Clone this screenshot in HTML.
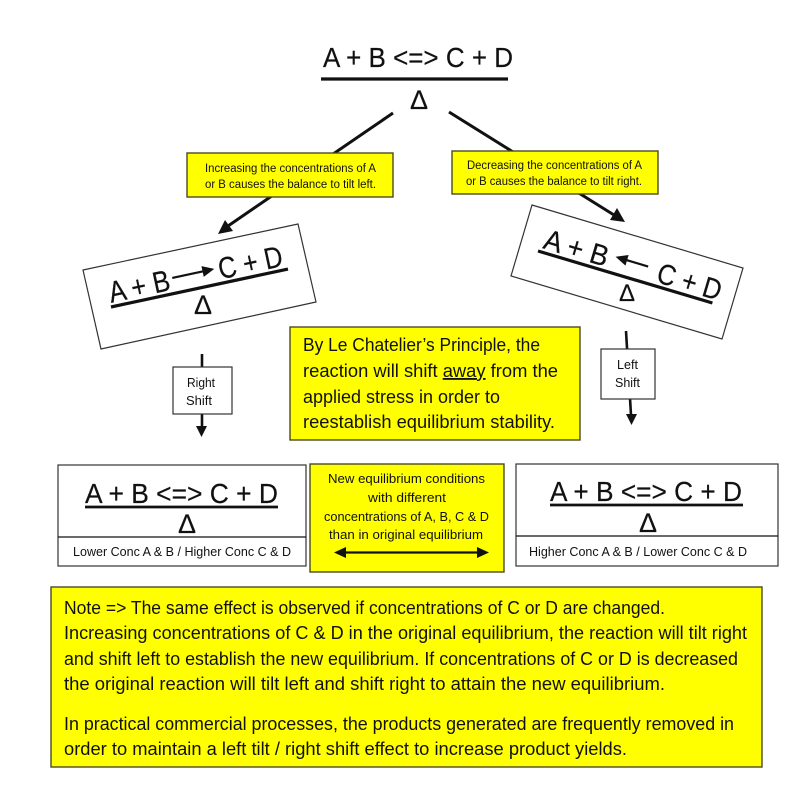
<!DOCTYPE html>
<html><head><meta charset="utf-8"><style>
html,body{margin:0;padding:0;background:#fff}
svg{display:block}
text{font-family:"Liberation Sans",sans-serif;fill:#111}
.b{stroke:#111;stroke-width:.2}
.y{fill:#ffff00;stroke:#4a4a20;stroke-width:1.4}
.w{fill:#fff;stroke:#333;stroke-width:1.2}
.k{stroke:#111;fill:none}
.h{fill:#111}
</style></head><body>
<svg xmlns="http://www.w3.org/2000/svg" width="791" height="800" viewBox="0 0 791 800">
<g style="filter:blur(.35px)">
<!-- top equation -->
<text class="b" x="323" y="67" font-size="28" textLength="190" lengthAdjust="spacingAndGlyphs">A + B &lt;=&gt; C + D</text>
<line class="k" x1="321" y1="79" x2="508" y2="79" stroke-width="3.2"/>
<text class="b" x="419" y="109" font-size="27" text-anchor="middle">Δ</text>
<!-- main connectors -->
<line class="k" x1="393" y1="113" x2="228" y2="226" stroke-width="3"/>
<polygon class="h" points="218,234 225,220 233,231"/>
<line class="k" x1="449" y1="112" x2="614" y2="215" stroke-width="3"/>
<polygon class="h" points="625,222 610,220 617,208"/>
<!-- small yellow labels -->
<rect class="y" x="187" y="153" width="206" height="44"/>
<g font-size="11.5">
<text x="205" y="172" textLength="171" lengthAdjust="spacingAndGlyphs">Increasing the concentrations of A</text>
<text x="205" y="188" textLength="171" lengthAdjust="spacingAndGlyphs">or B causes the balance to tilt left.</text>
</g>
<rect class="y" x="452" y="151" width="206" height="43"/>
<g font-size="11.5">
<text x="467" y="169" textLength="175" lengthAdjust="spacingAndGlyphs">Decreasing the concentrations of A</text>
<text x="466" y="185" textLength="176" lengthAdjust="spacingAndGlyphs">or B causes the balance to tilt right.</text>
</g>
<!-- left tilted box -->
<polygon class="w" points="83,270 298,224 316,302 101,349"/>
<g transform="translate(111,307) rotate(-12.1)">
<line class="k" x1="0" y1="0" x2="181" y2="0" stroke-width="3.2"/>
<text class="b" x="1" y="-4" font-size="30" textLength="62" lengthAdjust="spacingAndGlyphs">A + B</text>
<line class="k" x1="66" y1="-15.6" x2="100" y2="-15.6" stroke-width="2.2"/>
<polygon class="h" points="109,-15.6 97,-21 97,-10"/>
<text class="b" x="113" y="-4" font-size="30" textLength="65" lengthAdjust="spacingAndGlyphs">C + D</text>
</g>
<text class="b" x="203" y="314" font-size="27" text-anchor="middle">Δ</text>
<!-- right tilted box -->
<polygon class="w" points="532,205 743,268 722,339 511,276"/>
<g transform="translate(538,251) rotate(16.6)">
<line class="k" x1="0" y1="0" x2="182" y2="0" stroke-width="3.2"/>
<text class="b" x="3" y="-4" font-size="29" textLength="66" lengthAdjust="spacingAndGlyphs">A + B</text>
<line class="k" x1="84" y1="-16.6" x2="110" y2="-16.6" stroke-width="2.2"/>
<polygon class="h" points="76,-16.6 88,-22 88,-11"/>
<text class="b" x="121" y="-4" font-size="29" textLength="66" lengthAdjust="spacingAndGlyphs">C + D</text>
</g>
<text class="b" x="627" y="301" font-size="24" text-anchor="middle">Δ</text>
<!-- shift boxes -->
<line class="k" x1="202" y1="354" x2="202" y2="428" stroke-width="2.6"/>
<polygon class="h" points="201.5,437 196,426 207,426"/>
<rect class="w" x="173" y="367" width="59" height="47"/>
<text x="187" y="387" font-size="12.5" textLength="28" lengthAdjust="spacingAndGlyphs">Right</text>
<text x="186" y="405" font-size="12.5" textLength="26" lengthAdjust="spacingAndGlyphs">Shift</text>
<line class="k" x1="626" y1="331" x2="631" y2="415" stroke-width="2.6"/>
<polygon class="h" points="631.5,425 626,414 637,414"/>
<rect class="w" x="601" y="349" width="54" height="50"/>
<text x="617" y="369" font-size="12.5" textLength="21" lengthAdjust="spacingAndGlyphs">Left</text>
<text x="615" y="387" font-size="12.5" textLength="25" lengthAdjust="spacingAndGlyphs">Shift</text>
<!-- center yellow -->
<rect class="y" x="290" y="327" width="290" height="113"/>
<g font-size="18.5">
<text x="303" y="351" textLength="237" lengthAdjust="spacingAndGlyphs">By Le Chatelier’s Principle, the</text>
<text x="303" y="377" textLength="255" lengthAdjust="spacingAndGlyphs">reaction will shift <tspan text-decoration="underline">away</tspan> from the</text>
<text x="303" y="403" textLength="197" lengthAdjust="spacingAndGlyphs">applied stress in order to</text>
<text x="303" y="428" textLength="252" lengthAdjust="spacingAndGlyphs">reestablish equilibrium stability.</text>
</g>
<!-- bottom left equilibrium -->
<rect class="w" x="58" y="465" width="248" height="101"/>
<line class="k" x1="58" y1="537" x2="306" y2="537" stroke-width="1.2"/>
<text class="b" x="85" y="503" font-size="28" textLength="193" lengthAdjust="spacingAndGlyphs">A + B &lt;=&gt; C + D</text>
<line class="k" x1="85" y1="507" x2="278" y2="507" stroke-width="2.8"/>
<text class="b" x="187" y="533" font-size="27" text-anchor="middle">Δ</text>
<text x="73" y="556" font-size="13" textLength="218" lengthAdjust="spacingAndGlyphs">Lower Conc A &amp; B / Higher Conc C &amp; D</text>
<!-- middle yellow -->
<rect class="y" x="310" y="464" width="194" height="108"/>
<g font-size="13">
<text x="328" y="483" textLength="157" lengthAdjust="spacingAndGlyphs">New equilibrium conditions</text>
<text x="368" y="502" textLength="78" lengthAdjust="spacingAndGlyphs">with different</text>
<text x="324" y="521" textLength="165" lengthAdjust="spacingAndGlyphs">concentrations of A, B, C &amp; D</text>
<text x="329" y="539" textLength="154" lengthAdjust="spacingAndGlyphs">than in original equilibrium</text>
</g>
<line class="k" x1="340" y1="552.5" x2="484" y2="552.5" stroke-width="2.2"/>
<polygon class="h" points="334,552.5 346,547 346,558"/>
<polygon class="h" points="489,552.5 477,547 477,558"/>
<!-- bottom right equilibrium -->
<rect class="w" x="516" y="464" width="262" height="102"/>
<line class="k" x1="516" y1="536" x2="778" y2="536" stroke-width="1.2"/>
<text class="b" x="550" y="501" font-size="28" textLength="192" lengthAdjust="spacingAndGlyphs">A + B &lt;=&gt; C + D</text>
<line class="k" x1="550" y1="505" x2="743" y2="505" stroke-width="2.8"/>
<text class="b" x="648" y="532" font-size="27" text-anchor="middle">Δ</text>
<text x="529" y="556" font-size="13" textLength="218" lengthAdjust="spacingAndGlyphs">Higher Conc A &amp; B / Lower Conc C &amp; D</text>
<!-- note -->
<rect class="y" x="51" y="587" width="711" height="180"/>
<g font-size="18">
<text x="64" y="614" textLength="601" lengthAdjust="spacingAndGlyphs">Note =&gt; The same effect is observed if concentrations of C or D are changed.</text>
<text x="64" y="639" textLength="683" lengthAdjust="spacingAndGlyphs">Increasing concentrations of C &amp; D in the original equilibrium, the reaction will tilt right</text>
<text x="64" y="665" textLength="674" lengthAdjust="spacingAndGlyphs">and shift left to establish the new equilibrium. If concentrations of C or D is decreased</text>
<text x="64" y="690" textLength="601" lengthAdjust="spacingAndGlyphs">the original reaction will tilt left and shift right to attain the new equilibrium.</text>
<text x="64" y="730" textLength="670" lengthAdjust="spacingAndGlyphs">In practical commercial processes, the products generated are frequently removed in</text>
<text x="64" y="755" textLength="563" lengthAdjust="spacingAndGlyphs">order to maintain a left tilt / right shift effect to increase product yields.</text>
</g>
</g>
</svg>
</body></html>
